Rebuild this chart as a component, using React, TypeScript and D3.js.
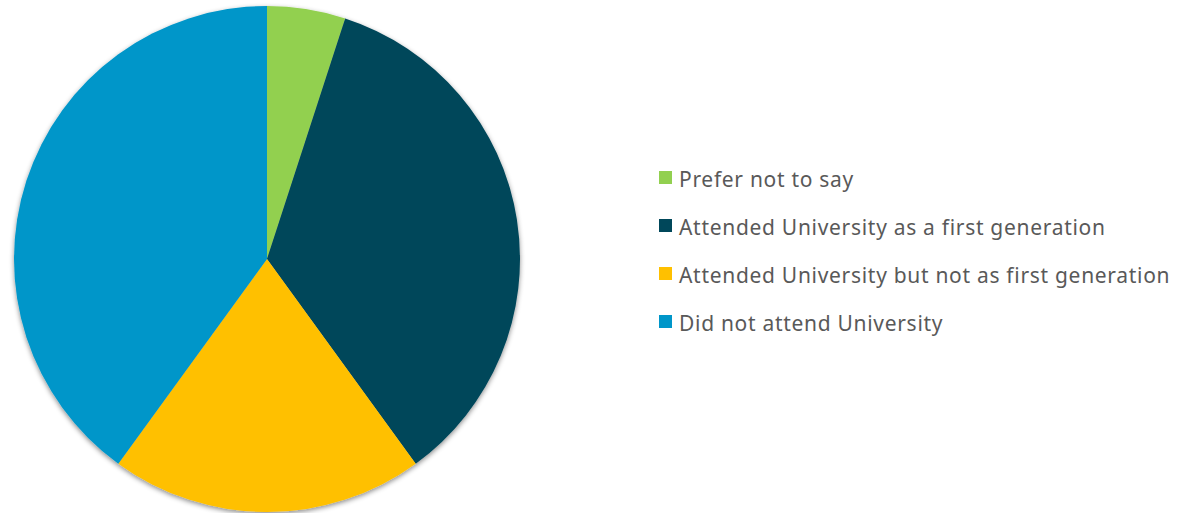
import * as d3 from 'd3';

const categories = [
  'Prefer not to say',
  'Attended University as a first generation',
  'Attended University but not as first generation',
  'Did not attend University',
];
const values = [5, 35, 20, 40];
const colors = ['#92D050', '#00475A', '#FFC000', '#0096C9'];

export default function App() {
  const width = 1184;
  const height = 513;
  const cx = 267;
  const cy = 259;
  const r = 253;

  const pie = d3.pie<number>().sort(null).value(d => d);
  const arc = d3.arc<d3.PieArcDatum<number>>().innerRadius(0).outerRadius(r);
  const arcs = pie(values);

  const legendY = d3.scalePoint<string>()
    .domain(categories)
    .range([180, 324]);

  return (
    <svg width={width} height={height} style={{ position: 'absolute', left: 0, top: 0 }}>
      <defs>
        <filter id="shadow" x="-10%" y="-10%" width="120%" height="120%">
          <feDropShadow dx="0" dy="2" stdDeviation="2.5" floodColor="#000" floodOpacity="0.45" />
        </filter>
      </defs>
      <g transform={`translate(${cx},${cy})`} filter="url(#shadow)">
        {arcs.map((a, i) => (
          <path key={i} d={arc(a) ?? ''} fill={colors[i]} />
        ))}
      </g>
      <g fontFamily="'Noto Sans', sans-serif" fontSize={21} letterSpacing={0.7} fill="#595959">
        {categories.map((c, i) => (
          <g key={c} transform={`translate(659,${legendY(c)})`}>
            <rect x={0} y={-9} width={13} height={13} fill={colors[i]} />
            <text x={20} y={0} dy="0.33em">{c}</text>
          </g>
        ))}
      </g>
    </svg>
  );
}
